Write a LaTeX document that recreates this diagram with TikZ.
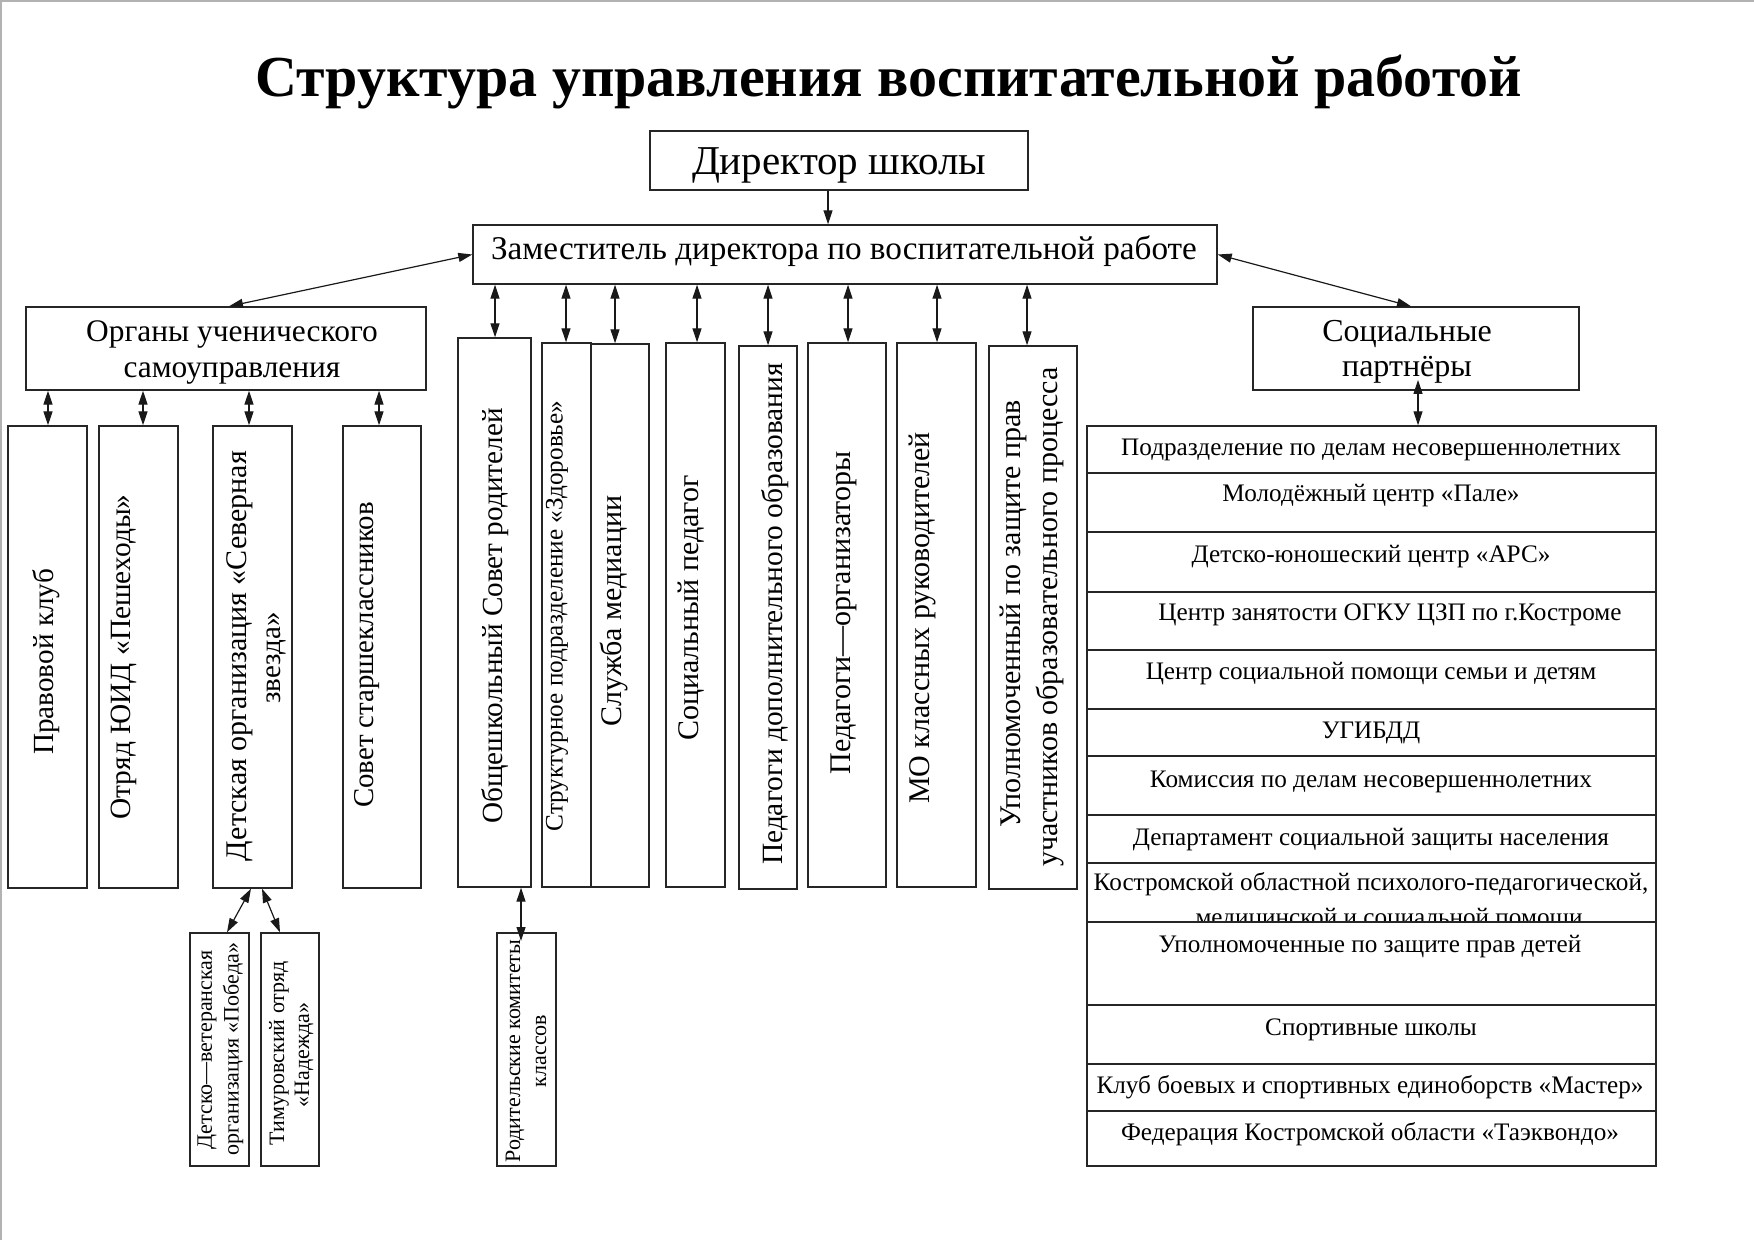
\documentclass[tikz,border=0pt]{standalone}
\usepackage{fontspec}
\setmainfont{Liberation Serif}
\usetikzlibrary{arrows.meta, fit}

\newcommand{\fsz}[1]{\fontsize{#1}{#1}\selectfont}

\tikzset{
  box/.style={draw=black!85, line width=0.7pt, inner sep=0pt, fill=white},
  vtext/.style={rotate=90, inner sep=0pt},
  htext/.style={inner sep=0pt, anchor=base},
  rowtext/.style={htext, font=\fsz{12.6}},
  link/.style={<->, line width=0.6pt, draw=black!90},
  >={Triangle[length=7pt,width=4.5pt]}
}

\begin{document}
\begin{tikzpicture}[x=0.5pt, y=-0.5pt]
\useasboundingbox (0,0) rectangle (1754,1240);
\draw[gray!60, line width=1pt] (1,1240) -- (1,1) -- (1754,1);

% title and top boxes
\node[htext, font=\bfseries\fsz{29}] (title) at (889,97) {Структура управления воспитательной работой};

\node[box, fit={(650,131) (1028,190)}] (dir) {};
\node[htext, font=\fsz{20.5}] (dir-t) at (839,175) {Директор школы};

\node[box, fit={(473,225) (1217,284)}] (dep) {};
\node[htext, font=\fsz{16.6}] (dep-t) at (844,260) {Заместитель директора по воспитательной работе};

\node[box, fit={(26,307) (426,390)}] (org) {};
\node[htext, font=\fsz{15.7}] (org-t1) at (232,342) {Органы ученического};
\node[htext, font=\fsz{15.7}] (org-t2) at (232,378) {самоуправления};

\node[box, fit={(1253,307) (1579,390)}] (soc) {};
\node[htext, font=\fsz{16}] (soc-t1) at (1407,342) {Социальные};
\node[htext, font=\fsz{16}] (soc-t2) at (1407,377) {партнёры};

% student self-government
\node[box, fit={(8,426) (87,888)}] (pravo) {};
\node[vtext, font=\fsz{14.6}] (pravo-t) at (46,662) {Правовой клуб};
\node[box, fit={(99,426) (178,888)}] (uid) {};
\node[vtext, font=\fsz{14.7}] (uid-t) at (124,657) {Отряд ЮИД «Пешеходы»};
\node[box, fit={(213,426) (292,888)}] (sever) {};
\node[vtext, font=\fsz{15}] (sever-t1) at (240,656) {Детская организация «Северная};
\node[vtext, font=\fsz{14.5}] (sever-t2) at (276,658) {звезда»};
\node[box, fit={(343,426) (421,888)}] (starsh) {};
\node[vtext, font=\fsz{14.4}] (starsh-t) at (367,655) {Совет старшеклассников};

\node[box, fit={(190,933) (249,1166)}] (pobeda) {};
\node[vtext, font=\fsz{11}] (pobeda-t1) at (207,1050) {Детско—ветеранская};
\node[vtext, font=\fsz{11}] (pobeda-t2) at (233,1049) {организация «Победа»};
\node[box, fit={(261,933) (319,1166)}] (nadezhda) {};
\node[vtext, font=\fsz{11}] (nadezhda-t1) at (279,1053) {Тимуровский отряд};
\node[vtext, font=\fsz{11}] (nadezhda-t2) at (304,1055) {«Надежда»};

% staff under the deputy
\node[box, fit={(458,338) (531,887)}] (roditeli) {};
\node[vtext, font=\fsz{14.6}] (roditeli-t) at (495,616) {Общешкольный Совет родителей};
\node[box, fit={(542,343) (591,887)}] (zdorov) {};
\node[vtext, font=\fsz{12.6}] (zdorov-t) at (557,616) {Структурное подразделение «Здоровье»};
\node[box, fit={(591,344) (649,887)}] (mediac) {};
\node[vtext, font=\fsz{15}] (mediac-t) at (614,611) {Служба медиации};
\node[box, fit={(666,343) (725,887)}] (socped) {};
\node[vtext, font=\fsz{15}] (socped-t) at (691,608) {Социальный педагог};
\node[box, fit={(739,346) (797,889)}] (dopobr) {};
\node[vtext, font=\fsz{14.7}] (dopobr-t) at (775,614) {Педагоги дополнительного образования};
\node[box, fit={(808,343) (886,887)}] (pedorg) {};
\node[vtext, font=\fsz{15}] (pedorg-t) at (844,613) {Педагоги—организаторы};
\node[box, fit={(897,343) (976,887)}] (mo) {};
\node[vtext, font=\fsz{15}] (mo-t) at (922,618) {МО классных руководителей};
\node[box, fit={(989,346) (1077,889)}] (upoln) {};
\node[vtext, font=\fsz{15}] (upoln-t1) at (1013,614) {Уполномоченный по защите прав};
\node[vtext, font=\fsz{15}] (upoln-t2) at (1050,617) {участников образовательного процесса};

\node[box, fit={(497,933) (556,1166)}] (komitet) {};
\node[vtext, font=\fsz{11}] (komitet-t1) at (515,1051) {Родительские комитеты};
\node[vtext, font=\fsz{11}] (komitet-t2) at (541,1051) {классов};

% social partners table
\node[box, fit={(1087,426) (1656,473)}] (tab1) {};
\node[rowtext] (tab1-t) at (1371,456) {Подразделение по делам несовершеннолетних};
\node[box, fit={(1087,473) (1656,532)}] (tab2) {};
\node[rowtext] (tab2-t) at (1371,502) {Молодёжный центр «Пале»};
\node[box, fit={(1087,532) (1656,592)}] (tab3) {};
\node[rowtext] (tab3-t) at (1371,562) {Детско-юношеский центр «АРС»};
\node[box, fit={(1087,592) (1656,650)}] (tab4) {};
\node[rowtext] (tab4-t) at (1390,620) {Центр занятости ОГКУ ЦЗП по г.Костроме};
\node[box, fit={(1087,650) (1656,709)}] (tab5) {};
\node[rowtext] (tab5-t) at (1371,679) {Центр социальной помощи семьи и детям};
\node[box, fit={(1087,709) (1656,756)}] (tab6) {};
\node[rowtext] (tab6-t) at (1371,738) {УГИБДД};
\node[box, fit={(1087,756) (1656,815)}] (tab7) {};
\node[rowtext] (tab7-t) at (1371,787) {Комиссия по делам несовершеннолетних};
\node[box, fit={(1087,815) (1656,863)}] (tab8) {};
\node[rowtext] (tab8-t) at (1371,845) {Департамент социальной защиты населения};
\node[box, fit={(1087,863) (1656,922)}] (tab9) {};
\node[rowtext] (tab9-t1) at (1371,890) {Костромской областной психолого-педагогической,};
\node[rowtext] (tab9-t2) at (1389,925) {медицинской и социальной помощи};
\node[box, fit={(1087,922) (1656,1005)}] (tab10) {};
\node[rowtext] (tab10-t) at (1370,952) {Уполномоченные по защите прав детей};
\node[box, fit={(1087,1005) (1656,1064)}] (tab11) {};
\node[rowtext] (tab11-t) at (1371,1035) {Спортивные школы};
\node[box, fit={(1087,1064) (1656,1111)}] (tab12) {};
\node[rowtext] (tab12-t) at (1370,1093) {Клуб боевых и спортивных единоборств «Мастер»};
\node[box, fit={(1087,1111) (1656,1166)}] (tab13) {};
\node[rowtext] (tab13-t) at (1370,1140) {Федерация Костромской области «Таэквондо»};

% connectors
\draw[->, line width=0.6pt, draw=black!90] (828,0 |- dir.south) -- (828,0 |- dep.north);
\draw[link] (dep.west) -- (229,0 |- org.north);
\draw[link] (dep.east) -- (1411,0 |- soc.north);

\draw[link] (48,0 |- org.south) -- (48,0 |- pravo.north);
\draw[link] (143,0 |- org.south) -- (143,0 |- uid.north);
\draw[link] (249,0 |- org.south) -- (249,0 |- sever.north);
\draw[link] (379,0 |- org.south) -- (379,0 |- starsh.north);

\draw[link] (495,0 |- dep.south) -- (495,0 |- roditeli.north);
\draw[link] (566,0 |- dep.south) -- (566,0 |- zdorov.north);
\draw[link] (615,0 |- dep.south) -- (615,0 |- mediac.north);
\draw[link] (697,0 |- dep.south) -- (697,0 |- socped.north);
\draw[link] (768,0 |- dep.south) -- (768,0 |- dopobr.north);
\draw[link] (848,0 |- dep.south) -- (848,0 |- pedorg.north);
\draw[link] (937,0 |- dep.south) -- (937,0 |- mo.north);
\draw[link] (1027,0 |- dep.south) -- (1027,0 |- upoln.north);

\coordinate (soc-in) at (1418,380);
\draw[link] (soc-in) -- (soc-in |- tab1.north);

\draw[link] (251,0 |- sever.south) -- (227,0 |- pobeda.north);
\draw[link] (262,0 |- sever.south) -- (280,0 |- nadezhda.north);
\coordinate (kom-in) at (521,941);
\draw[link] (521,0 |- roditeli.south) -- (kom-in);
\end{tikzpicture}
\end{document}
